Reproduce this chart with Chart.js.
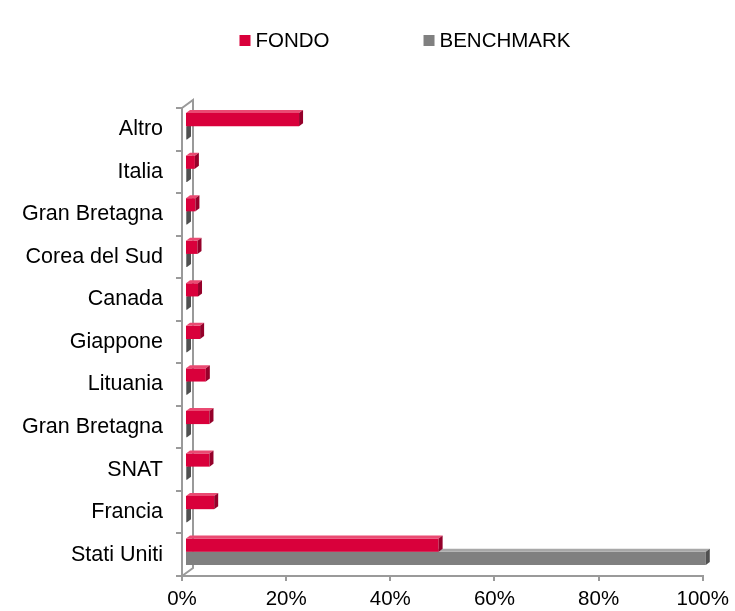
<!DOCTYPE html>
<html>
<head>
<meta charset="utf-8">
<script src="https://cdn.jsdelivr.net/npm/chart.js@4/dist/chart.umd.min.js"></script>
<style>
  html, body { margin: 0; padding: 0; background: #fff; }
  #wrap { width: 735px; height: 611px; }
</style>
</head>
<body>
<div id="wrap"><canvas id="c" width="735" height="611"></canvas></div>
<script>
// ---- data ----
const categories = ['Altro', 'Italia', 'Gran Bretagna', 'Corea del Sud', 'Canada', 'Giappone',
                    'Lituania', 'Gran Bretagna', 'SNAT', 'Francia', 'Stati Uniti'];
const seriesNames = ['FONDO', 'BENCHMARK'];
const fondo     = [21.9, 1.9, 2.0, 2.4, 2.5, 2.9, 4.0, 4.7, 4.7, 5.6, 48.7];
const benchmark = [0, 0, 0, 0, 0, 0, 0, 0, 0, 0, 100];
const xTickValues = [0, 20, 40, 60, 80, 100];

// ---- styles ----
const FONT = '"Liberation Sans", Arial, sans-serif';
const AXIS = '#9a9a9a';
const faces = {
  FONDO:     { front: '#d9003b', top: '#ea4a72', side: '#95002a' },
  BENCHMARK: { front: '#808080', top: '#a8a8a8', side: '#505050' }
};
const DEPTH = { dx: 4, dy: 3 };
const SHIFT = { x: 3, y: -3 };

const threeD = {
  id: 'threeD',
  beforeDatasetsDraw(chart) {
    const ctx = chart.ctx, a = chart.chartArea;
    // back wall and floor/top edges of the 3D frame
    ctx.save();
    ctx.strokeStyle = AXIS;
    ctx.lineWidth = 2;
    ctx.beginPath();
    ctx.moveTo(a.left, a.top); ctx.lineTo(a.left + 11, a.top - 8);
    ctx.lineTo(a.left + 11, a.bottom - 8); ctx.lineTo(a.left, a.bottom);
    ctx.stroke();
    ctx.restore();
    ctx.save();
    ctx.translate(SHIFT.x, SHIFT.y);
  },
  afterDatasetDraw(chart, args) {
    const ctx = chart.ctx;
    const name = chart.data.datasets[args.index].label;
    const f = faces[name];
    args.meta.data.forEach(bar => {
      const p = bar.getProps(['x', 'y', 'base', 'height'], true);
      const l = Math.min(p.x, p.base), r = Math.max(p.x, p.base);
      const t = p.y - p.height / 2, b = p.y + p.height / 2;
      ctx.fillStyle = f.top;
      ctx.beginPath();
      ctx.moveTo(l, t); ctx.lineTo(l + DEPTH.dx, t - DEPTH.dy);
      ctx.lineTo(r + DEPTH.dx, t - DEPTH.dy); ctx.lineTo(r, t); ctx.closePath();
      ctx.fill();
      ctx.fillStyle = f.side;
      ctx.beginPath();
      ctx.moveTo(r, t); ctx.lineTo(r + DEPTH.dx, t - DEPTH.dy);
      ctx.lineTo(r + DEPTH.dx, b - DEPTH.dy); ctx.lineTo(r, b); ctx.closePath();
      ctx.fill();
    });
  },
  afterDatasetsDraw(chart) {
    chart.ctx.restore();
  }
};

const topLegend = {
  id: 'topLegend',
  afterDraw(chart) {
    const ctx = chart.ctx;
    ctx.save();
    ctx.font = '20.5px ' + FONT;
    ctx.textBaseline = 'alphabetic';
    const box = 11, gapText = 5, gapItems = 94, centerX = 405, baseY = 47;
    const items = chart.data.datasets.map(d => ({ label: d.label, color: d.backgroundColor, w: ctx.measureText(d.label).width }));
    let total = 0;
    items.forEach((it, i) => { total += box + gapText + it.w + (i ? gapItems : 0); });
    let x = centerX - total / 2;
    items.forEach(it => {
      ctx.fillStyle = it.color;
      ctx.fillRect(x, baseY - 12, box, box);
      ctx.fillStyle = '#000';
      ctx.fillText(it.label, x + box + gapText, baseY);
      x += box + gapText + it.w + gapItems;
    });
    ctx.restore();
  }
};

new Chart(document.getElementById('c'), {
  type: 'bar',
  data: {
    labels: categories,
    datasets: [
      { label: seriesNames[0], data: fondo, backgroundColor: faces.FONDO.front, borderWidth: 0, clip: false },
      { label: seriesNames[1], data: benchmark, backgroundColor: faces.BENCHMARK.front, borderWidth: 0, clip: false, minBarLength: 2 }
    ]
  },
  options: {
    indexAxis: 'y',
    responsive: false,
    animation: false,
    devicePixelRatio: 1,
    layout: { padding: { top: 108, right: 31, bottom: 0, left: 0 } },
    datasets: { bar: { categoryPercentage: 0.62, barPercentage: 1.0 } },
    plugins: { legend: { display: false }, tooltip: { enabled: false } },
    scales: {
      x: {
        type: 'linear',
        min: 0, max: 100,
        afterBuildTicks(scale) { scale.ticks = xTickValues.map(v => ({ value: v })); },
        afterFit(scale) { scale.height = 35; },
        ticks: { callback: v => v + '%', color: '#000', font: { size: 20.5, family: FONT }, padding: 6, maxRotation: 0 },
        grid: { drawOnChartArea: false, tickLength: 5, color: AXIS, lineWidth: 2 },
        border: { display: true, color: AXIS, width: 2 }
      },
      y: {
        afterFit(scale) { scale.width = 182; },
        ticks: { color: '#000', font: { size: 21.5, family: FONT }, padding: 13 },
        grid: { drawOnChartArea: false, offset: true, tickLength: 6, color: AXIS, lineWidth: 2 },
        border: { display: true, color: AXIS, width: 2 }
      }
    }
  },
  plugins: [threeD, topLegend]
});
</script>
</body>
</html>
